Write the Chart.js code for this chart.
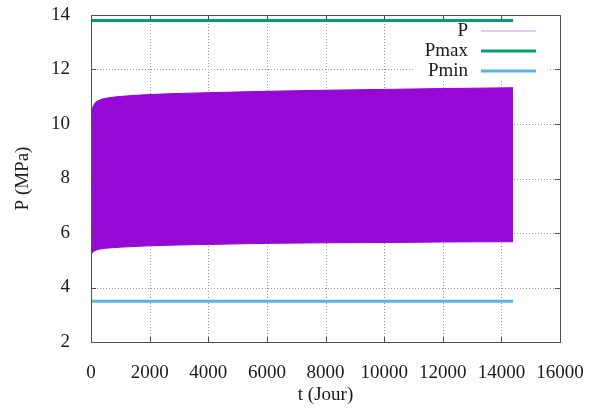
<!DOCTYPE html>
<html>
<head>
<meta charset="utf-8">
<script src="https://cdn.jsdelivr.net/npm/chart.js@4.4.1/dist/chart.umd.min.js"></script>
<style>
  html, body { margin: 0; padding: 0; background: #fff; }
</style>
</head>
<body>
<canvas id="pChart" width="590" height="410"></canvas>
<script>
// time (days) and the envelope of the oscillating pressure P (MPa)
const tDays  = [0, 60, 150, 300, 600, 1000, 2000, 3000, 4000, 6000, 8000, 10000, 12000, 14400];
const pUpper = [10.35, 10.6, 10.78, 10.88, 10.96, 11.01, 11.08, 11.12, 11.15, 11.2, 11.24, 11.27, 11.3, 11.33];
const pLower = [5.22, 5.3, 5.36, 5.41, 5.45, 5.48, 5.53, 5.56, 5.58, 5.62, 5.64, 5.65, 5.67, 5.68];

// pressure limits
const tLimits = [0, 14400];
const pMax = [13.8, 13.8];
const pMin = [3.5, 3.5];

const xTicks = [0, 2000, 4000, 6000, 8000, 10000, 12000, 14000, 16000];
const yTicks = [2, 4, 6, 8, 10, 12, 14];

const toPoints = (xs, ys) => xs.map((x, i) => ({x: x, y: ys[i]}));

const serif = "'Liberation Serif', 'DejaVu Serif', serif";

// dotted grid drawn under the curves
const gridPlugin = {
  id: 'dotGrid',
  beforeDatasetsDraw(chart) {
    const ctx = chart.ctx, a = chart.chartArea;
    const xs = chart.scales.x, ys = chart.scales.y;
    ctx.save();
    ctx.strokeStyle = '#9a9a9a';
    ctx.lineWidth = 1;
    ctx.setLineDash([1, 2]);
    ctx.beginPath();
    xTicks.slice(1, -1).forEach(v => {
      const px = Math.round(xs.getPixelForValue(v)) + 0.5;
      ctx.moveTo(px, a.top); ctx.lineTo(px, a.bottom);
    });
    yTicks.slice(1, -1).forEach(v => {
      const py = Math.round(ys.getPixelForValue(v)) + 0.5;
      ctx.moveTo(a.left, py); ctx.lineTo(a.right, py);
    });
    ctx.stroke();
    ctx.restore();
  }
};

// gnuplot-like frame: full border plus inward tick marks
const framePlugin = {
  id: 'frame',
  afterDatasetsDraw(chart) {
    const ctx = chart.ctx, a = chart.chartArea;
    const xs = chart.scales.x, ys = chart.scales.y;
    ctx.save();
    ctx.strokeStyle = '#505050';
    ctx.lineWidth = 1;
    ctx.beginPath();
    xTicks.forEach(v => {
      const px = Math.round(xs.getPixelForValue(v)) + 0.5;
      ctx.moveTo(px, a.bottom); ctx.lineTo(px, a.bottom - 5);
      ctx.moveTo(px, a.top); ctx.lineTo(px, a.top + 5);
    });
    yTicks.forEach(v => {
      const py = Math.round(ys.getPixelForValue(v)) + 0.5;
      ctx.moveTo(a.left, py); ctx.lineTo(a.left + 5, py);
      ctx.moveTo(a.right, py); ctx.lineTo(a.right - 5, py);
    });
    ctx.stroke();
    ctx.strokeRect(Math.round(a.left) + 0.5, Math.round(a.top) + 0.5,
                   Math.round(a.right - a.left), Math.round(a.bottom - a.top));
    ctx.restore();
  }
};

// key in the upper right corner: label first, line sample after it
const keyPlugin = {
  id: 'key',
  afterDraw(chart) {
    const ctx = chart.ctx;
    const items = [
      {label: 'P', color: '#dcb6f2', width: 1.5},
      {label: 'Pmax', color: '#009e73', width: 3},
      {label: 'Pmin', color: '#56b4e9', width: 3}
    ];
    ctx.save();
    ctx.fillStyle = '#fff';
    ctx.fillRect(415, 23, 134, 57);
    ctx.font = '19px ' + serif;
    ctx.textAlign = 'right';
    ctx.textBaseline = 'middle';
    items.forEach((it, i) => {
      const y = 31 + i * 20;
      ctx.fillStyle = '#1a1a1a';
      ctx.fillText(it.label, 468, y);
      ctx.strokeStyle = it.color;
      ctx.lineWidth = it.width;
      ctx.beginPath();
      ctx.moveTo(481, y);
      ctx.lineTo(536, y);
      ctx.stroke();
    });
    ctx.restore();
  }
};

new Chart(document.getElementById('pChart'), {
  type: 'line',
  data: {
    datasets: [
      {
        label: 'P',
        data: toPoints(tDays, pUpper),
        borderColor: '#9400d3',
        backgroundColor: '#9608d5',
        borderWidth: 1,
        fill: '+1',
        pointRadius: 0,
        cubicInterpolationMode: 'monotone'
      },
      {
        label: 'P (min)',
        data: toPoints(tDays, pLower),
        borderColor: '#9400d3',
        borderWidth: 1,
        fill: false,
        pointRadius: 0,
        cubicInterpolationMode: 'monotone'
      },
      {
        label: 'Pmax',
        data: toPoints(tLimits, pMax),
        borderColor: '#009e73',
        borderWidth: 3,
        pointRadius: 0,
        fill: false
      },
      {
        label: 'Pmin',
        data: toPoints(tLimits, pMin),
        borderColor: '#56b4e9',
        borderWidth: 3,
        pointRadius: 0,
        fill: false
      }
    ]
  },
  options: {
    responsive: false,
    animation: false,
    layout: { padding: { left: 0, right: 30, top: 15, bottom: 0 } },
    plugins: {
      legend: { display: false },
      tooltip: { enabled: false }
    },
    scales: {
      x: {
        type: 'linear',
        min: 0,
        max: 16000,
        afterBuildTicks: s => { s.ticks = xTicks.map(v => ({value: v})); },
        afterFit: s => { s.height = 68; s.paddingLeft = 0; s.paddingRight = 0; },
        grid: { display: false },
        border: { display: false },
        ticks: {
          padding: 12,
          maxRotation: 0,
          color: '#1a1a1a',
          font: { family: serif, size: 19 },
          callback: v => String(v)
        },
        title: {
          display: true,
          text: 't (Jour)',
          color: '#1a1a1a',
          font: { family: serif, size: 19 },
          padding: { top: 0, bottom: 4 }
        }
      },
      y: {
        min: 2,
        max: 14,
        afterBuildTicks: s => { s.ticks = yTicks.map(v => ({value: v})); },
        afterFit: s => { s.width = 91; s.paddingTop = 0; s.paddingBottom = 0; },
        grid: { display: false },
        border: { display: false },
        ticks: {
          padding: 13,
          color: '#1a1a1a',
          font: { family: serif, size: 19 },
          callback: v => String(v)
        },
        title: {
          display: true,
          text: 'P (MPa)',
          color: '#1a1a1a',
          font: { family: serif, size: 19 },
          padding: { top: 12, bottom: 0 }
        }
      }
    }
  },
  plugins: [gridPlugin, framePlugin, keyPlugin]
});
</script>
</body>
</html>
